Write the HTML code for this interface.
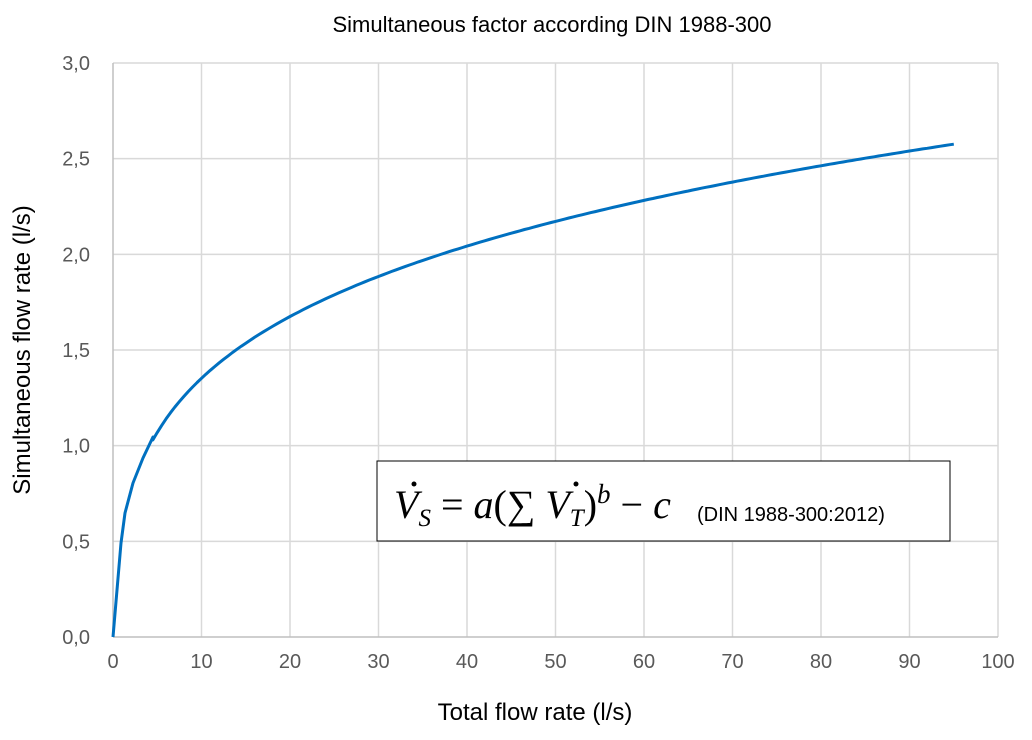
<!DOCTYPE html>
<html><head><meta charset="utf-8"><style>
body{margin:0;background:#fff;}
</style></head><body>
<svg id="s" width="1032" height="735" xmlns="http://www.w3.org/2000/svg" style="font-family:'Liberation Sans',sans-serif">
<rect width="1032" height="735" fill="#fff"/>
<g id="grid" stroke="#d9d9d9" stroke-width="1.5"></g>
<line x1="113" y1="637" x2="998" y2="637" stroke="#bfbfbf" stroke-width="1.5"/>
<line x1="113" y1="63" x2="113" y2="637" stroke="#bfbfbf" stroke-width="1.5"/>
<g id="lab" fill="#595959" font-size="20"></g>
<text x="552" y="32" text-anchor="middle" font-size="22" fill="#000">Simultaneous factor according DIN 1988-300</text>
<text x="535" y="720" text-anchor="middle" font-size="24" fill="#000">Total flow rate (l/s)</text>
<text transform="translate(30,350) rotate(-90)" text-anchor="middle" font-size="24" fill="#000">Simultaneous flow rate (l/s)</text>
<path id="curve" fill="none" stroke="#0070c0" stroke-width="3" stroke-linejoin="round"/>
<rect x="377" y="461" width="573" height="80" fill="#fff" stroke="#000" stroke-width="1"/>
<text x="394" y="518" style="font-family:'Liberation Serif',serif" font-size="40" font-style="italic" fill="#000">V<tspan font-size="25" dy="8">S</tspan><tspan dy="-8" font-style="normal"> = </tspan>a<tspan font-style="normal">(∑ </tspan>V<tspan font-size="25" dy="8">T</tspan><tspan dy="-8" font-style="normal">)</tspan><tspan font-size="27" dy="-15">b</tspan><tspan dy="15" font-style="normal"> − </tspan>c</text>
<circle cx="414" cy="484" r="2.5" fill="#000"/>
<circle id="d2" cx="576" cy="484" r="2.5" fill="#000"/>
<text x="697" y="521" font-size="20" fill="#000">(DIN 1988-300:2012)</text>
</svg>
<script>
var ns="http://www.w3.org/2000/svg",g=document.getElementById('grid'),lab=document.getElementById('lab');
function X(v){return 113+v*8.85;}function Y(v){return 637-v*191.33;}
for(var i=1;i<=10;i++){var l=document.createElementNS(ns,'line');l.setAttribute('x1',X(i*10));l.setAttribute('x2',X(i*10));l.setAttribute('y1',63);l.setAttribute('y2',637);g.appendChild(l);}
for(var j=1;j<=6;j++){var l=document.createElementNS(ns,'line');l.setAttribute('x1',113);l.setAttribute('x2',998);l.setAttribute('y1',Y(j*0.5));l.setAttribute('y2',Y(j*0.5));g.appendChild(l);}
for(var i=0;i<=10;i++){var t=document.createElementNS(ns,'text');t.setAttribute('x',X(i*10));t.setAttribute('y',668);t.setAttribute('text-anchor','middle');t.textContent=i*10;lab.appendChild(t);}
for(var j=0;j<=6;j++){var t=document.createElementNS(ns,'text');t.setAttribute('x',90);t.setAttribute('y',Y(j*0.5)+7);t.setAttribute('text-anchor','end');t.textContent=(j*0.5).toFixed(1).replace('.',',');lab.appendChild(t);}
var d="M113,637 L121,543 L125,513 L133,483 L143,458 L153,437";
for(var k=0;k<=181;k++){var x=4.5+k*0.5;var y=1.48*Math.pow(x,0.19)-0.94;d+=" L"+X(x).toFixed(1)+","+Y(y).toFixed(1);}
document.getElementById('curve').setAttribute('d',d);
</script>
</body></html>
